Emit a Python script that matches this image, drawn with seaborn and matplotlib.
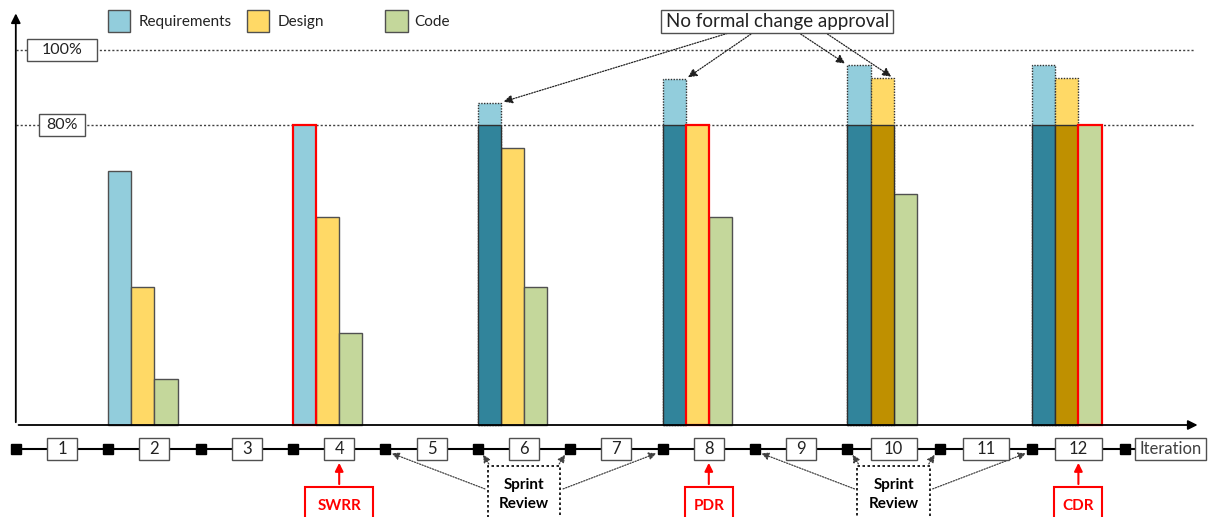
import numpy as np
import matplotlib
matplotlib.use("Agg")
import matplotlib.pyplot as plt
import seaborn as sns
from matplotlib.patches import Rectangle, FancyArrowPatch

# data (percent of final content)
iterations = [2, 4, 6, 8, 10, 12]
requirements = [67.7, 80, 86, 92.3, 96, 96]
design = [36.8, 55.5, 73.9, 80, 92.5, 92.5]
code = [12.3, 24.5, 36.8, 55.5, 61.6, 80]
phases = ["Requirements", "Design", "Code"]
baselined_at = [4, 8, 12]          # red outline = baseline approved here
milestones = ["SWRR", "PDR", "CDR"]
sprint_reviews = [6, 10]
iteration_labels = [str(i) for i in range(1, 13)] + ["Iteration"]
baseline = 80
levels = [80, 100]

light = ["#92CDDC", "#FFD966", "#C4D79B"]
dark = ["#31849B", "#BF9000", "#76923C"]
edge = "#505050"
red = "#FF0000"

sns.set_theme(style="white")
plt.rcParams["font.family"] = ["Lato", "DejaVu Sans"]

fig = plt.figure(figsize=(12.15, 5.17), dpi=100)
ax = fig.add_axes([0, 0, 1, 1])

# bars: Requirements / Design / Code side by side, left edge at the iteration start
values = [requirements, design, code]
for k in range(3):
    vals = np.array(values[k])
    pos = np.array(iterations) - 0.375 + 0.25 * k
    frozen = np.array(iterations) > baselined_at[k]
    sns.barplot(x=pos, y=vals, native_scale=True, width=0.125, color=light[k],
                saturation=1, edgecolor=edge, linewidth=1.0, errorbar=None,
                ax=ax, zorder=3)
    bars = ax.containers[-1]
    for bar, it, fr in zip(bars, iterations, frozen):
        if fr:
            bar.set_linestyle((0, (1, 1)))
            bar.set_edgecolor("#303030")
        if it == baselined_at[k]:
            bar.set_edgecolor(red)
            bar.set_linewidth(1.6)
            bar.set_zorder(4)
    if frozen.any():
        sns.barplot(x=pos[frozen], y=np.minimum(vals, baseline)[frozen],
                    native_scale=True, width=0.125, color=dark[k], saturation=1,
                    edgecolor="#303030", linewidth=1.0, errorbar=None,
                    ax=ax, zorder=3.5)

# reference levels
for lv in levels:
    ax.hlines(lv, 0.5, 13.26, colors="#404040", linestyles=(0, (1.5, 1.5)),
              lw=1.0, zorder=1)


def box(xc, yc, w, h, text, ec=edge, ls="-", lw=1.0, color="#222222",
        weight="normal", size=11, z=6):
    ax.add_patch(Rectangle((xc - w / 2, yc - h / 2), w, h, fc="white", ec=ec,
                           ls=ls, lw=lw, zorder=z))
    ax.text(xc, yc, text, ha="center", va="center", color=color, fontsize=size,
            fontweight=weight, zorder=z + 1, linespacing=1.45)


box(1, 100, 0.76, 5.9, "100%", size=11.5)
box(1, 80, 0.50, 5.9, "80%", size=11.5)

# axes arrows
ax.annotate("", xy=(0.5, 110.5), xytext=(0.5, 0),
            arrowprops=dict(arrowstyle="-|>", color="black", lw=1.3,
                            mutation_scale=14), zorder=5)
ax.annotate("", xy=(13.32, 0), xytext=(0.5, 0),
            arrowprops=dict(arrowstyle="-|>", color="black", lw=1.3,
                            mutation_scale=14), zorder=5)

# legend
for k, (xs, xt) in enumerate([(1.5, 1.83), (3.0, 3.33), (4.5, 4.81)]):
    ax.add_patch(Rectangle((xs, 104.8), 0.24, 5.9, fc=light[k], ec=edge,
                           lw=1.0, zorder=5))
    ax.text(xt, 107.5, phases[k], ha="left", va="center", fontsize=11,
            color="#222222")

# "No formal change approval" callout
cx, cy = 8.74, 107.7
box(cx, cy, 2.51, 6.1, "No formal change approval", size=13.5)
targets = [(6 - 0.25, requirements[2]), (8 - 0.25, requirements[3]),
           (10 - 0.5, requirements[4]), (10.0, design[4])]
starts = [8.23, 8.48, 8.97, 9.26]
for sx, (tx, ty) in zip(starts, targets):
    ax.add_patch(FancyArrowPatch((sx, cy - 3.05), (tx, ty), arrowstyle="-|>",
                                 mutation_scale=13, color="#202020",
                                 linestyle=(0, (1, 1.2)), lw=0.9, zorder=5))

# timeline
ty = -6.4
ax.plot([0.5, 13], [ty, ty], color="black", lw=1.5, zorder=2)
bounds = np.arange(0.5, 13, 1.0)
ax.plot(bounds, [ty] * len(bounds), "s", color="black", ms=7, zorder=3)
for i, lab in enumerate(iteration_labels, start=1):
    w = 0.325 if len(lab) == 1 else (0.5 if len(lab) == 2 else 0.77)
    box(i, ty, w, 5.9, lab, size=12,
        color="#404040" if lab == "Iteration" else "#222222")

# milestones (red)
for name, it in zip(milestones, baselined_at):
    w = 0.74 if len(name) == 4 else 0.52
    ax.add_patch(Rectangle((it - w / 2, -30), w, 13.5, fc="white", ec=red,
                           lw=1.5, zorder=6))
    ax.text(it, -21.5, name, ha="center", va="center", color=red,
            fontsize=11, fontweight="bold", zorder=7)
    ax.annotate("", xy=(it, ty - 2.95), xytext=(it, -16.5),
                arrowprops=dict(arrowstyle="-|>", color=red, lw=1.5,
                                mutation_scale=12), zorder=7)

# sprint reviews
for s in sprint_reviews:
    w = 0.79
    ax.add_patch(Rectangle((s - w / 2, -30), w, 19.1, fc="white", ec="black",
                           ls=(0, (1.5, 1.5)), lw=1.2, zorder=6))
    ax.text(s, -18.6, "Sprint\nReview", ha="center", va="center", color="black",
            fontsize=11, fontweight="bold", zorder=7, linespacing=1.45)
    for side in (-1, 1):
        for (bx, by), mk in [((s + side * w / 2, -17.3), s + side * 1.5),
                             ((s + side * (w / 2 - 0.03), -11.0), s + side * 0.5)]:
            ax.add_patch(FancyArrowPatch((bx, by), (mk - side * 0.04, ty - 0.9),
                                         arrowstyle="-|>", mutation_scale=11,
                                         color="#404040", linestyle=(0, (1, 1.2)),
                                         lw=0.9, zorder=5))

ax.set_xlim(1 - 62 / 92.4, 1 + (1215 - 62) / 92.4)
ax.set_ylim(-(517 - 425) / 3.75, 425 / 3.75)
ax.axis("off")

fig.savefig("out.png", dpi=100)
